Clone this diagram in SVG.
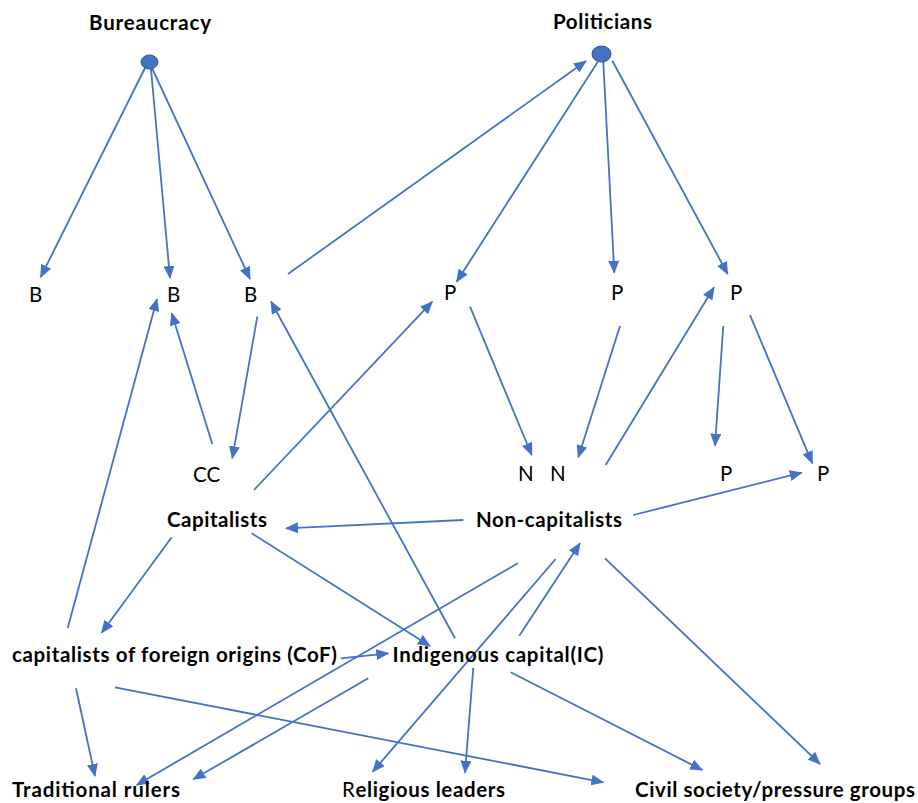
<svg xmlns="http://www.w3.org/2000/svg" width="918" height="803" viewBox="0 0 918 803">
  <style>
    text { font-family: Lato, "Liberation Sans", "DejaVu Sans", sans-serif; font-size: 20.5px; fill: #000; }
    .b { font-weight: bold; }
    .r { font-weight: normal; }
    .edge { stroke: #4472C4; stroke-width: 1.8; fill: none; marker-end: url(#arrow); }
    .dot { fill: #4472C4; stroke: #2F528F; stroke-width: 1; }
  </style>
  <defs>
    <marker id="arrow" viewBox="0 0 13 11" refX="12" refY="5.5" markerWidth="13" markerHeight="11" markerUnits="userSpaceOnUse" orient="auto">
      <path d="M0,0 L13,5.5 L0,11 z" fill="#4472C4"/>
    </marker>
  </defs>
  <rect width="918" height="803" fill="#fff"/>

  <!-- connectors -->
  <g id="connectors">
    <!-- bureaucracy fan-out -->
    <line class="edge" x1="145" y1="68" x2="40.7" y2="277"/>
    <line class="edge" x1="151" y1="69" x2="170" y2="278"/>
    <line class="edge" x1="152" y1="68" x2="250" y2="279"/>
    <!-- B to politicians -->
    <line class="edge" x1="288" y1="274" x2="586" y2="61"/>
    <!-- politicians fan-out -->
    <line class="edge" x1="597.7" y1="62" x2="456.7" y2="281.7"/>
    <line class="edge" x1="603.3" y1="62" x2="614.3" y2="272.7"/>
    <line class="edge" x1="612.3" y1="60.7" x2="727.7" y2="274"/>
    <!-- middle tier -->
    <line class="edge" x1="67.7" y1="628" x2="157" y2="299"/>
    <line class="edge" x1="212.3" y1="444" x2="171.7" y2="313.3"/>
    <line class="edge" x1="257.3" y1="316.7" x2="232.3" y2="458.3"/>
    <line class="edge" x1="455" y1="638.3" x2="271" y2="301.5"/>
    <line class="edge" x1="254" y1="490" x2="432.3" y2="301.7"/>
    <line class="edge" x1="463.3" y1="520" x2="286" y2="528.3"/>
    <line class="edge" x1="470" y1="306.7" x2="531.7" y2="455"/>
    <line class="edge" x1="620" y1="326" x2="578.3" y2="457.3"/>
    <line class="edge" x1="605.7" y1="465" x2="714" y2="287.3"/>
    <line class="edge" x1="723.3" y1="326" x2="715" y2="445.7"/>
    <line class="edge" x1="750" y1="315" x2="812.3" y2="463.3"/>
    <line class="edge" x1="633.3" y1="515" x2="801.7" y2="472.7"/>
    <!-- lower tier -->
    <line class="edge" x1="171.7" y1="537.3" x2="101.7" y2="632.7"/>
    <line class="edge" x1="251.7" y1="533.3" x2="430" y2="646"/>
    <line class="edge" x1="340.7" y1="658.3" x2="388.3" y2="653.3"/>
    <line class="edge" x1="76" y1="688.3" x2="95" y2="776"/>
    <line class="edge" x1="517.7" y1="563.3" x2="136.7" y2="785"/>
    <line class="edge" x1="368.3" y1="678.3" x2="193.3" y2="779.3"/>
    <line class="edge" x1="115" y1="687.3" x2="603.3" y2="782.3"/>
    <line class="edge" x1="555.7" y1="559" x2="372.7" y2="771.7"/>
    <line class="edge" x1="519.3" y1="635.7" x2="580" y2="543.3"/>
    <line class="edge" x1="473.3" y1="667.7" x2="465" y2="772.7"/>
    <line class="edge" x1="510.7" y1="672.3" x2="702.3" y2="770"/>
    <line class="edge" x1="605" y1="558.3" x2="820" y2="764"/>
  </g>

  <!-- nodes -->
  <g id="bureaucracy">
    <text class="b" x="89" y="29.5" textLength="122">Bureaucracy</text>
    <ellipse class="dot" cx="149.5" cy="62" rx="8.5" ry="7"/>
  </g>
  <g id="politicians">
    <text class="b" x="553" y="29" textLength="99">Politicians</text>
    <ellipse class="dot" cx="601.5" cy="54" rx="9.5" ry="8"/>
  </g>
  <g id="b1"><text x="29" y="301.5">B</text></g>
  <g id="b2"><text x="167" y="301.5">B</text></g>
  <g id="b3"><text x="244" y="301.5">B</text></g>
  <g id="p1"><text x="444" y="300">P</text></g>
  <g id="p2"><text x="611" y="300">P</text></g>
  <g id="p3"><text x="730" y="300">P</text></g>
  <g id="cc"><text x="193" y="481.5">CC</text></g>
  <g id="n1"><text x="518" y="481">N</text></g>
  <g id="n2"><text x="550" y="481">N</text></g>
  <g id="p4"><text x="720" y="481">P</text></g>
  <g id="p5"><text x="817" y="481">P</text></g>
  <g id="capitalists"><text class="b" x="167" y="526.5" textLength="100">Capitalists</text></g>
  <g id="non-capitalists"><text class="b" x="476" y="527" textLength="146">Non-capitalists</text></g>
  <g id="cof"><text class="b" x="12" y="661.5" textLength="325">capitalists of foreign origins (CoF)</text></g>
  <g id="ic"><text class="b" x="392.5" y="661.5" textLength="211">Indigenous capital(IC)</text></g>
  <g id="traditional-rulers"><text class="b" x="12" y="796.5" textLength="168">Traditional rulers</text></g>
  <g id="religious-leaders"><text class="b" x="342" y="796.5" textLength="163"><tspan class="r">R</tspan>eligious leaders</text></g>
  <g id="civil-society"><text class="b" x="635" y="796.5" textLength="280">Civil society/pressure groups</text></g>
</svg>
